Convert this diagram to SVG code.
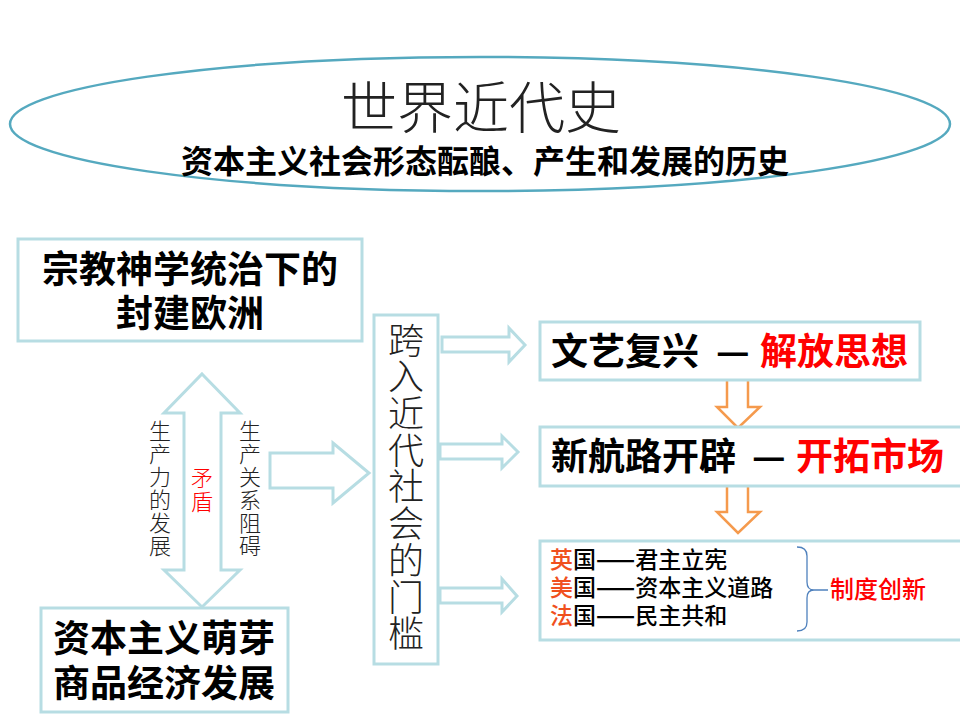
<svg xmlns="http://www.w3.org/2000/svg" width="960" height="720" viewBox="0 0 960 720">
<style>
.box{fill:#fff;stroke:#b7dde3;stroke-width:3}
.arr{fill:#fff;stroke:#b7dde3;stroke-width:3;stroke-linejoin:miter}
.oarr{fill:#fff;stroke:#f59a4d;stroke-width:2.5}
.b{font-family:"Noto Sans CJK SC","Liberation Sans",sans-serif;font-weight:bold;fill:#000}
.t{font-family:"Noto Sans CJK SC","Liberation Sans",sans-serif;font-weight:300;fill:#222}
.v{writing-mode:vertical-rl;text-orientation:upright}
.n{font-family:"Noto Sans CJK SC","Liberation Sans",sans-serif;font-weight:500;fill:#000}
.d{font-weight:bold}
.red{fill:#ff0000}
.or{fill:#f0501e}
</style>
<rect width="960" height="720" fill="#fff"/>
<g id="title">
<ellipse cx="480" cy="124" rx="470" ry="67" fill="#fff" stroke="#55a9bf" stroke-width="2.5"/>
<text x="481" y="128" class="t" font-size="56" text-anchor="middle" fill="#000">世界近代史</text>
<text x="485" y="173" class="b" font-size="32" text-anchor="middle">资本主义社会形态酝酿、产生和发展的历史</text>
</g>
<g id="connectors">
<path class="arr" d="M202,374 L240,413 L221,413 L221,570 L240,570 L202,607 L164,570 L184,570 L184,413 L164,413 Z"/>
<path class="arr" d="M270,453 L333,453 L333,443 L369,473 L333,503 L333,488 L270,488 Z"/>
<path class="arr" d="M442,337 L509,337 L509,328 L525,345 L509,362 L509,352 L442,352 Z"/>
<path class="arr" d="M440,444 L502,444 L502,436 L518,452 L502,468 L502,459 L440,459 Z"/>
<path class="arr" d="M440,588 L502,588 L502,579 L517,596 L502,612 L502,603 L440,603 Z"/>
<path class="oarr" d="M727,367 L748,367 L748,407 L760,407 L738,428 L717,407 L727,407 Z"/>
<path class="oarr" d="M727,472 L748,472 L748,512 L760,512 L738,533 L717,512 L727,512 Z"/>
</g>
<g id="labels">
<text class="t v" font-size="22" letter-spacing="1" x="160" y="420">生产力的发展</text>
<text class="t v" font-size="22" letter-spacing="1" x="250" y="420">生产关系阻碍</text>
<text class="t v red" font-size="22" letter-spacing="2" x="202" y="467">矛盾</text>
</g>
<g id="feudal">
<rect class="box" x="18" y="239" width="344" height="102"/>
<text class="b" font-size="37" text-anchor="middle" x="190" y="283">宗教神学统治下的</text>
<text class="b" font-size="37" text-anchor="middle" x="190" y="327">封建欧洲</text>
</g>
<g id="capitalism">
<rect class="box" x="41" y="608" width="247" height="104"/>
<text class="b" font-size="37" text-anchor="middle" x="164" y="652">资本主义萌芽</text>
<text class="b" font-size="37" text-anchor="middle" x="164" y="697">商品经济发展</text>
</g>
<g id="threshold">
<rect class="box" x="374" y="315" width="64" height="349"/>
<text class="t v" font-size="36" letter-spacing="0.7" x="406" y="322" fill="#000">跨入近代社会的门槛</text>
</g>
<g id="renaissance">
<rect class="box" x="540" y="322" width="380" height="58"/>
<text class="b" font-size="37" y="365"><tspan x="551">文艺复兴</tspan><tspan x="716">—</tspan><tspan x="760" class="red">解放思想</tspan></text>
</g>
<g id="voyages">
<rect class="box" x="540" y="427" width="425" height="59"/>
<text class="b" font-size="37" y="470"><tspan x="551">新航路开辟</tspan><tspan x="752">—</tspan><tspan x="796" class="red">开拓市场</tspan></text>
</g>
<g id="institutions">
<rect class="box" x="540" y="541" width="425" height="99"/>
<text class="n" font-size="23" x="550" y="568"><tspan class="or">英</tspan>国<tspan class="d">——</tspan>君主立宪</text>
<text class="n" font-size="23" x="550" y="596"><tspan class="or">美</tspan>国<tspan class="d">——</tspan>资本主义道路</text>
<text class="n" font-size="23" x="550" y="624"><tspan class="or">法</tspan>国<tspan class="d">——</tspan>民主共和</text>
<path d="M797,547 Q807,547 807,556 L807,582 Q807,590 814,590 Q807,590 807,598 L807,622 Q807,631 797,631 M814,590 L828,590" fill="none" stroke="#4f81bd" stroke-width="1.3"/>
<text class="n red" font-size="24" x="830" y="598">制度创新</text>
</g>
</svg>
